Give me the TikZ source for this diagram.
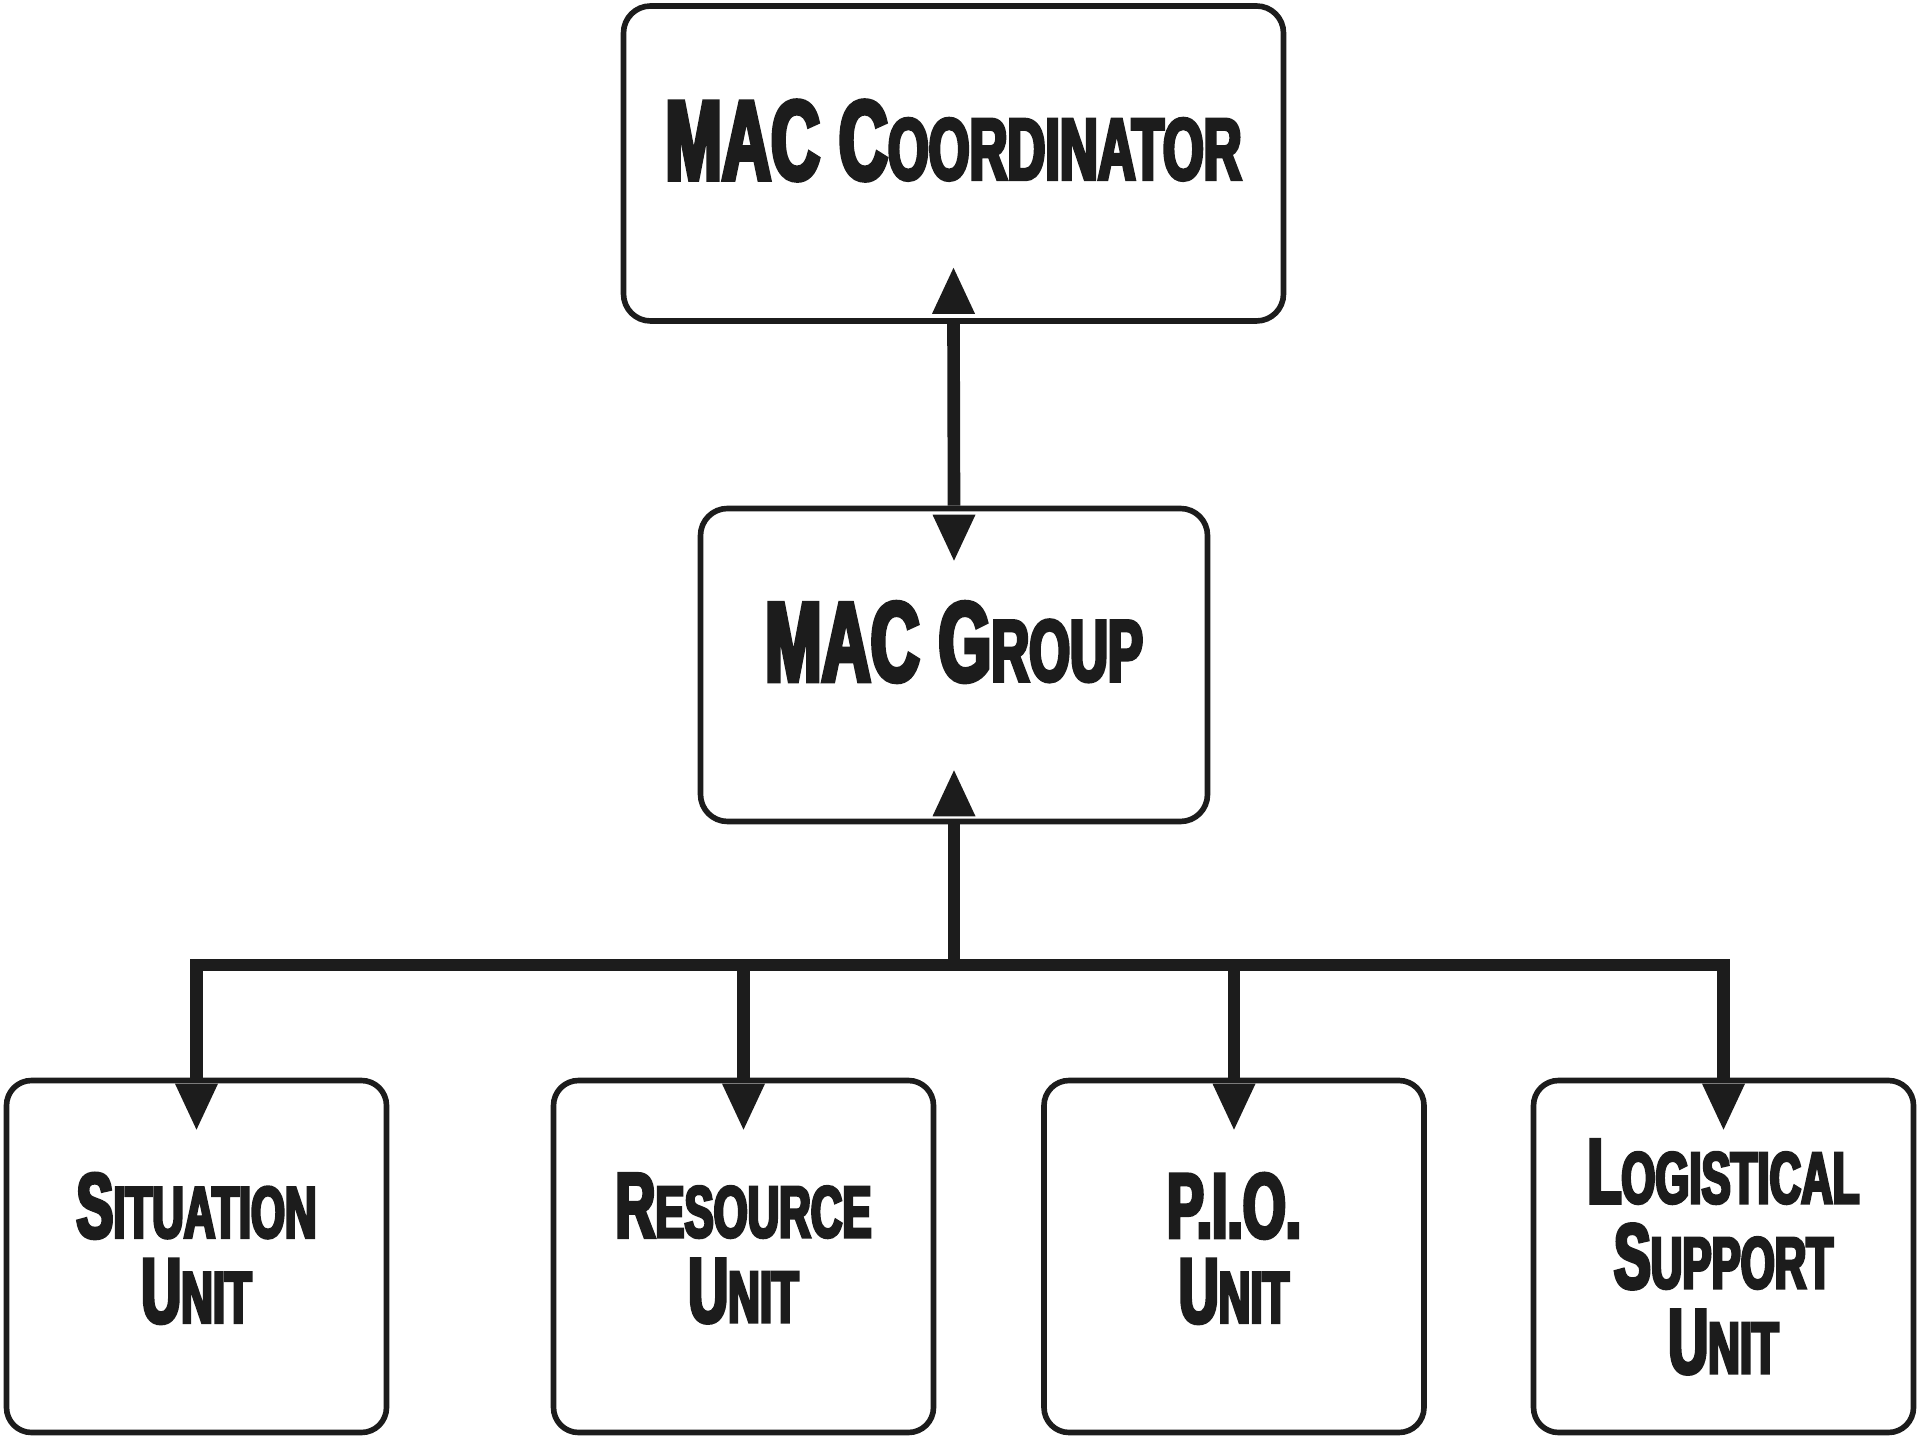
\documentclass[tikz,border=0pt]{standalone}
\usepackage{fontspec}
\usepackage{relsize}
\newfontfamily\macfont{Liberation Sans}[FakeStretch=0.6,BoldFeatures={FakeBold=4}]
\definecolor{ink}{HTML}{1C1C1C}
\newcommand{\sk}[2]{#1\textscale{0.8}{\MakeUppercase{#2}}}
\newcommand{\uptip}[2]{\fill[ink] ([yshift=#2]#1) -- ++(-0.215,0) -- ++(0.215,0.46) -- ++(0.215,-0.46) -- cycle;}
\newcommand{\downtip}[2]{\fill[ink] ([yshift=-#2]#1) -- ++(-0.215,0) -- ++(0.215,-0.46) -- ++(0.215,0.46) -- cycle;}
\begin{document}
\begin{tikzpicture}[
  box/.style={draw=ink, line width=1.6pt, rounded corners=0.27cm, align=center, inner sep=0pt, text=ink},
  headbox/.style={box, font=\macfont\bfseries\fontsize{32.2}{32}\selectfont, text height=0.85cm, text depth=0.53cm},
  unitbox/.style={box, minimum width=3.8cm, minimum height=3.52cm, rounded corners=0.25cm,
    font=\macfont\bfseries\fontsize{26.2}{24.2}\selectfont, text depth=0.17cm},
  link/.style={draw=ink, line width=3.6pt}]
\useasboundingbox (0,0) rectangle (19.2,14.4);

\node [headbox, minimum width=6.6cm, minimum height=3.15cm] (coord) at (9.535,12.765) {MAC \sk{C}{oordinator}};
\node [headbox, minimum width=5.07cm, minimum height=3.13cm] (group) at (9.54,7.75) {MAC \sk{G}{roup}};

\node [unitbox] (sit) at (1.965,1.835) {\sk{S}{ituation}\\\sk{U}{nit}};
\node [unitbox] (res) at (7.435,1.835) {\sk{R}{esource}\\\sk{U}{nit}};
\node [unitbox] (pio) at (12.34,1.835) {P.I.O.\\\sk{U}{nit}};
\node [unitbox, text depth=0pt] (logi) at (17.235,1.835) {\sk{L}{ogistical}\\\sk{S}{upport}\\\sk{U}{nit}};

\coordinate (bar) at (9.54,4.75);

\draw [link] (group.north) -- (coord.south);
\draw [link] (group.south) -- (bar);
\draw [link] (sit.north) -- (sit.north |- bar) -- (logi.north |- bar) -- (logi.north);
\draw [link] (res.north |- bar) -- (res.north);
\draw [link] (pio.north |- bar) -- (pio.north);

\uptip{coord.south}{0.1cm}
\downtip{group.north}{0.09cm}
\uptip{group.south}{0.08cm}
\foreach \u in {sit,res,pio,logi}
  \downtip{\u.north}{0.06cm};

\end{tikzpicture}
\end{document}
